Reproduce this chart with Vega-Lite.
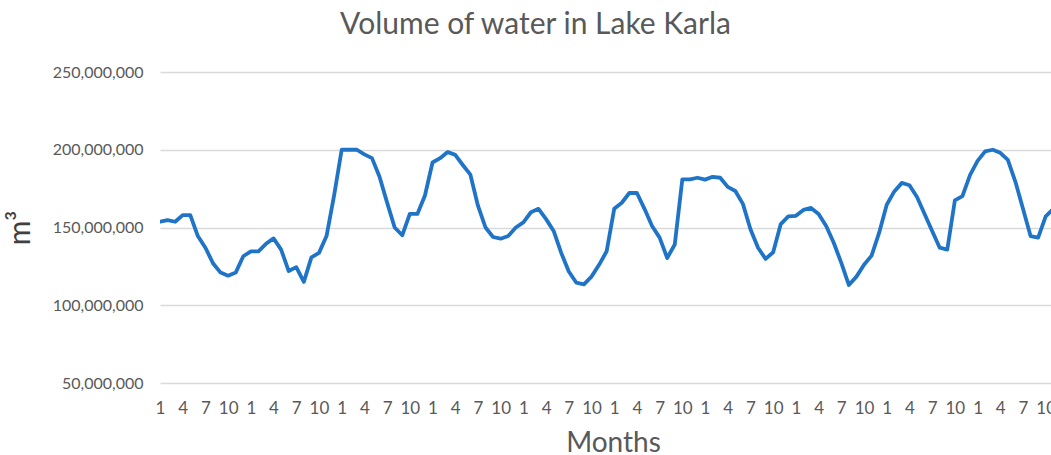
{
  "$schema": "https://vega.github.io/schema/vega-lite/v6.json",
  "autosize": {"type": "none"},
  "padding": {"left": 160, "top": 72, "right": 0, "bottom": 72},
  "width": 891,
  "height": 311,
  "background": "white",
  "title": {
    "text": "Volume of water in Lake Karla",
    "font": "Lato",
    "fontSize": 30,
    "fontWeight": "normal",
    "color": "#595959",
    "anchor": "middle",
    "baseline": "alphabetic",
    "offset": 0,
    "dx": -70
  },
  "config": {"view": {"stroke": null}},
  "data": {"values": [
    {"m":1,"v":153700000},{"m":2,"v":154800000},{"m":3,"v":153700000},{"m":4,"v":158000000},{"m":5,"v":158000000},{"m":6,"v":144500000},{"m":7,"v":137000000},{"m":8,"v":127000000},{"m":9,"v":121000000},{"m":10,"v":119000000},{"m":11,"v":121000000},{"m":12,"v":131500000},
    {"m":13,"v":134700000},{"m":14,"v":134700000},{"m":15,"v":139500000},{"m":16,"v":143000000},{"m":17,"v":135800000},{"m":18,"v":122000000},{"m":19,"v":124500000},{"m":20,"v":115000000},{"m":21,"v":130800000},{"m":22,"v":133700000},{"m":23,"v":144500000},{"m":24,"v":170600000},
    {"m":25,"v":200000000},{"m":26,"v":200000000},{"m":27,"v":200000000},{"m":28,"v":197000000},{"m":29,"v":194600000},{"m":30,"v":182600000},{"m":31,"v":166000000},{"m":32,"v":150000000},{"m":33,"v":145000000},{"m":34,"v":158700000},{"m":35,"v":158700000},{"m":36,"v":170600000},
    {"m":37,"v":191800000},{"m":38,"v":194600000},{"m":39,"v":198500000},{"m":40,"v":196700000},{"m":41,"v":190200000},{"m":42,"v":184000000},{"m":43,"v":164000000},{"m":44,"v":150000000},{"m":45,"v":143900000},{"m":46,"v":142800000},{"m":47,"v":144500000},{"m":48,"v":150000000},
    {"m":49,"v":153300000},{"m":50,"v":159800000},{"m":51,"v":162000000},{"m":52,"v":155400000},{"m":53,"v":147800000},{"m":54,"v":133700000},{"m":55,"v":121700000},{"m":56,"v":114500000},{"m":57,"v":113400000},{"m":58,"v":118400000},{"m":59,"v":126000000},{"m":60,"v":134700000},
    {"m":61,"v":162000000},{"m":62,"v":165900000},{"m":63,"v":172200000},{"m":64,"v":172200000},{"m":65,"v":162000000},{"m":66,"v":151000000},{"m":67,"v":143500000},{"m":68,"v":130400000},{"m":69,"v":139100000},{"m":70,"v":181000000},{"m":71,"v":181000000},{"m":72,"v":182000000},
    {"m":73,"v":180800000},{"m":74,"v":182600000},{"m":75,"v":182000000},{"m":76,"v":176100000},{"m":77,"v":173500000},{"m":78,"v":165200000},{"m":79,"v":148900000},{"m":80,"v":137000000},{"m":81,"v":129800000},{"m":82,"v":134100000},{"m":83,"v":152200000},{"m":84,"v":157200000},
    {"m":85,"v":157500000},{"m":86,"v":161300000},{"m":87,"v":162600000},{"m":88,"v":158700000},{"m":89,"v":151000000},{"m":90,"v":140200000},{"m":91,"v":127200000},{"m":92,"v":113000000},{"m":93,"v":118400000},{"m":94,"v":126000000},{"m":95,"v":131900000},{"m":96,"v":146700000},
    {"m":97,"v":164600000},{"m":98,"v":173200000},{"m":99,"v":178700000},{"m":100,"v":177200000},{"m":101,"v":169600000},{"m":102,"v":158700000},{"m":103,"v":147800000},{"m":104,"v":137000000},{"m":105,"v":135800000},{"m":106,"v":167400000},{"m":107,"v":170200000},{"m":108,"v":183700000},
    {"m":109,"v":192800000},{"m":110,"v":199000000},{"m":111,"v":200000000},{"m":112,"v":198000000},{"m":113,"v":193500000},{"m":114,"v":179400000},{"m":115,"v":162000000},{"m":116,"v":144500000},{"m":117,"v":143500000},{"m":118,"v":157200000},{"m":119,"v":162000000}
  ]},
  "mark": {"type": "line", "color": "#1f74c8", "strokeWidth": 3.8, "clip": true, "strokeJoin": "round", "strokeCap": "round"},
  "encoding": {
    "x": {
      "field": "m",
      "type": "quantitative",
      "scale": {"domain": [1, 118.7], "nice": false, "zero": false},
      "axis": {
        "title": "Months",
        "titleFont": "Lato",
        "titleFontSize": 28,
        "titleFontWeight": "normal",
        "titleColor": "#595959",
        "titleX": 453,
        "titleY": 60,
        "titleBaseline": "middle",
        "titleAlign": "center",
        "values": [1,4,7,10,13,16,19,22,25,28,31,34,37,40,43,46,49,52,55,58,61,64,67,70,73,76,79,82,85,88,91,94,97,100,103,106,109,112,115,118],
        "labelExpr": "((datum.value - 1) % 12) + 1",
        "labelFont": "Lato",
        "labelFontSize": 17,
        "labelColor": "#595959",
        "labelPadding": 25,
        "labelBaseline": "middle",
        "labelOverlap": false,
        "labelFlush": false,
        "grid": false,
        "ticks": false,
        "domain": false
      }
    },
    "y": {
      "field": "v",
      "type": "quantitative",
      "scale": {"domain": [50000000, 250000000], "nice": false, "zero": false},
      "axis": {
        "title": "m³",
        "titleFont": "Lato",
        "titleFontSize": 30,
        "titleFontWeight": "normal",
        "titleColor": "#404040",
        "titleX": -140,
        "titleY": 155.5,
        "titleAngle": -90,
        "titleBaseline": "middle",
        "titleAlign": "center",
        "values": [50000000, 100000000, 150000000, 200000000, 250000000],
        "format": ",.0f",
        "labelFont": "Lato",
        "labelFontSize": 16,
        "labelColor": "#595959",
        "labelPadding": 17,
        "grid": true,
        "gridColor": "#d9d9d9",
        "gridWidth": 1.3,
        "ticks": false,
        "domain": false
      }
    }
  }
}
